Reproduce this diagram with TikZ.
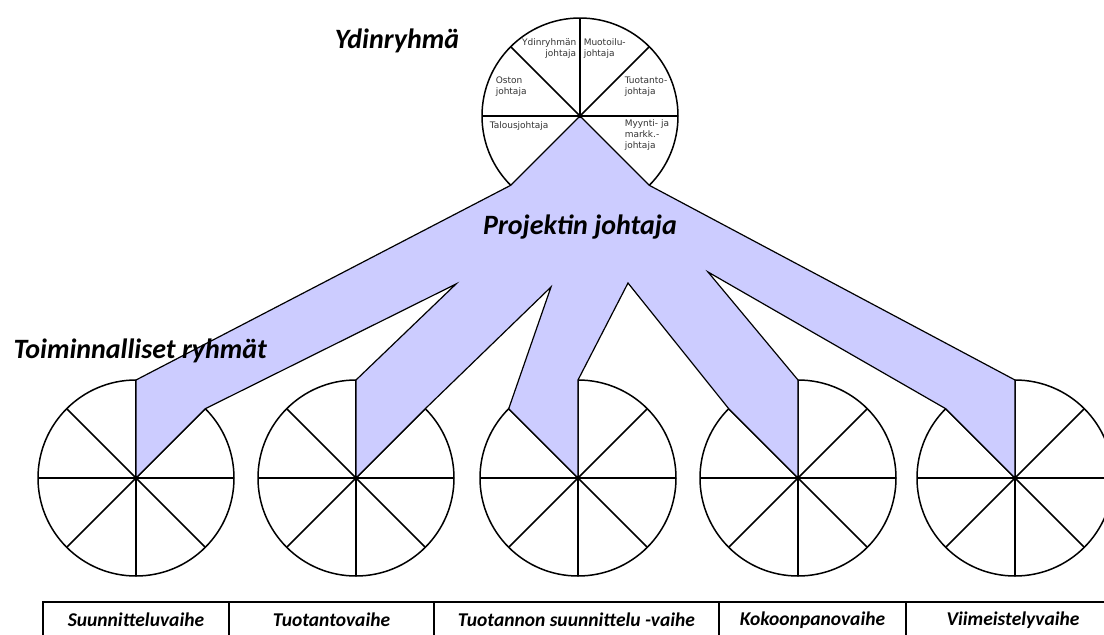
\documentclass[tikz,border=0pt]{standalone}
\usepackage{fontspec}
\setmainfont{Carlito}
\newfontfamily\rolefont{DejaVu Sans}
\usepackage{xcolor}
\usepackage{tikz}
\usetikzlibrary{calc}
\definecolor{leadblue}{RGB}{204,204,255}

\begin{document}
\begin{tikzpicture}[x=1pt,y=1pt,line width=1.5pt,
  big/.style={font=\fontsize{28}{31}\selectfont\bfseries\itshape},
  role/.style={font=\rolefont\fontsize{9}{11}\selectfont,text=black!80,inner sep=0pt},
  phase/.style={font=\fontsize{19.5}{22}\selectfont\bfseries\itshape}]
\useasboundingbox (0,0) rectangle (1104,-635);

% core group
\coordinate (core) at (580,-116);
\draw (core) circle (98);
\draw (core) ++(180:98) -- ++(0:196);
\foreach \a in {45,90,135} \draw (core) -- ++(\a:98);

% functional groups
\foreach \name/\x in {suun/136,tuot/356,tsuu/578,koko/798,viim/1015} {
  \coordinate (\name) at (\x,-478);
  \draw (\name) circle (98);
  \foreach \a in {0,45,...,315} \draw (\name) -- ++(\a:98);
}

% project leader band
\coordinate (v1) at (456,-284);
\coordinate (v2) at (551,-287);
\coordinate (v3) at (628,-283);
\coordinate (v4) at (708,-272);
\filldraw[fill=leadblue,line width=1.2pt]
  (core) -- ($(core)+(225:98)$) -- ($(suun)+(90:98)$) -- (suun) -- ($(suun)+(45:98)$)
  -- (v1) -- ($(tuot)+(90:98)$) -- (tuot) -- ($(tuot)+(45:98)$)
  -- (v2) -- ($(tsuu)+(135:98)$) -- (tsuu) -- ($(tsuu)+(90:98)$)
  -- (v3) -- ($(koko)+(135:98)$) -- (koko) -- ($(koko)+(90:98)$)
  -- (v4) -- ($(viim)+(135:98)$) -- (viim) -- ($(viim)+(90:98)$)
  -- ($(core)+(315:98)$) -- cycle;
\foreach \name in {core,suun,tuot,tsuu,koko,viim} \fill (\name) circle (2.2);

% titles
\node[big] (ydin) at (397,-41) {Ydinryhmä};
\node[big] (pj) at (580,-227) {Projektin johtaja};
\node[big,anchor=west] (toim) at (9.5,-351) {Toiminnalliset ryhmät};

% roles in the core group
\node[role,align=right,anchor=east] (ydj) at (577,-49) {Ydinryhmän\\johtaja};
\node[role,align=left,anchor=west] (muo) at (583,-49) {Muotoilu-\\johtaja};
\node[role,align=left,anchor=west] (ost) at (495,-87) {Oston\\johtaja};
\node[role,align=left,anchor=west] (tuo) at (624,-87) {Tuotanto-\\johtaja};
\node[role,anchor=west] (tal) at (489,-126) {Talousjohtaja};
\node[role,align=left,anchor=west] (myy) at (624,-135.5) {Myynti- ja\\markk.-\\johtaja};

% phases
\draw[line width=1.8pt] (43,-640) |- (1110,-602);
\foreach \x in {229,434,719,906} \draw[line width=1.8pt] (\x,-602) -- (\x,-640);
\node[phase] (p1) at (136,-620) {Suunnitteluvaihe};
\node[phase] (p2) at (331.5,-620) {Tuotantovaihe};
\node[phase] (p3) at (576.5,-620) {Tuotannon suunnittelu -vaihe};
\node[phase] (p4) at (812.5,-620) {Kokoonpanovaihe};
\node[phase] (p5) at (1013,-620) {Viimeistelyvaihe};
\end{tikzpicture}
\end{document}
